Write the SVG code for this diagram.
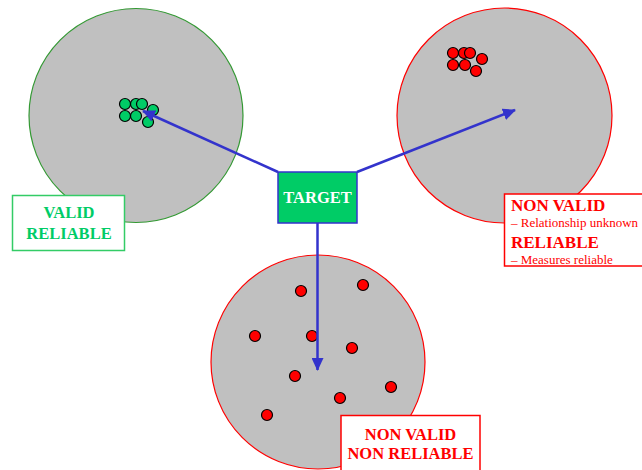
<svg xmlns="http://www.w3.org/2000/svg" width="642" height="470" viewBox="0 0 642 470">
<defs>
<style>
.field{fill:#C0C0C0;stroke-width:1.2}
.g{fill:#00CC66;stroke:#000;stroke-width:1.2}
.r{fill:#FF0000;stroke:#000;stroke-width:1.2}
.conn{stroke:#3333CC;stroke-width:2.5;fill:none;marker-end:url(#ah)}
.lbl{fill:#fff;stroke-width:1.5}
.b{font-family:"Liberation Serif","Times New Roman",serif;font-weight:bold}
.n{font-family:"Liberation Serif","Times New Roman",serif}
</style>
<marker id="ah" markerUnits="userSpaceOnUse" markerWidth="14" markerHeight="12" refX="12" refY="6" orient="auto">
<path d="M0,0 L13,6 L0,12 Z" fill="#3333CC"/>
</marker>
</defs>
<rect width="642" height="470" fill="#fff"/>

<g id="valid-target">
<circle class="field" cx="136" cy="115.5" r="107" stroke="#339933"/>
<circle class="g" cx="125" cy="104" r="5.5"/>
<circle class="g" cx="136" cy="104" r="5.5"/>
<circle class="g" cx="142" cy="104" r="5.5"/>
<circle class="g" cx="153" cy="110" r="5.5"/>
<circle class="g" cx="125" cy="116" r="5.5"/>
<circle class="g" cx="136" cy="116" r="5.5"/>
<circle class="g" cx="148" cy="122" r="5.5"/>
</g>

<g id="reliable-target">
<circle class="field" cx="504.5" cy="115.5" r="107.5" stroke="#FF0000"/>
<circle class="r" cx="453" cy="53" r="5.5"/>
<circle class="r" cx="464" cy="53" r="5.5"/>
<circle class="r" cx="470" cy="53" r="5.5"/>
<circle class="r" cx="482" cy="59" r="5.5"/>
<circle class="r" cx="453" cy="65" r="5.5"/>
<circle class="r" cx="465" cy="65" r="5.5"/>
<circle class="r" cx="476" cy="71" r="5.5"/>
</g>

<g id="unreliable-target">
<circle class="field" cx="318" cy="362" r="107" stroke="#FF0000"/>
<circle class="r" cx="301" cy="291" r="5.5"/>
<circle class="r" cx="363" cy="285" r="5.5"/>
<circle class="r" cx="255" cy="336" r="5.5"/>
<circle class="r" cx="312" cy="336" r="5.5"/>
<circle class="r" cx="352" cy="348" r="5.5"/>
<circle class="r" cx="295" cy="376" r="5.5"/>
<circle class="r" cx="391" cy="387" r="5.5"/>
<circle class="r" cx="340" cy="398" r="5.5"/>
<circle class="r" cx="267" cy="415" r="5.5"/>
</g>

<g id="connectors">
<line class="conn" x1="278" y1="172" x2="143" y2="111"/>
<line class="conn" x1="357" y1="172" x2="515" y2="110"/>
<line class="conn" x1="317.5" y1="223" x2="317.5" y2="370"/>
</g>

<g id="target">
<rect x="278" y="172" width="79" height="51" fill="#00CC66" stroke="#3333CC" stroke-width="1.5"/>
<text class="b" x="317.5" y="203" font-size="16.5" fill="#fff" text-anchor="middle">TARGET</text>
</g>

<g id="label-valid">
<rect class="lbl" x="12.5" y="195.5" width="112" height="55" stroke="#33CC66"/>
<text class="b" x="69" y="218" font-size="16.5" fill="#00CC66" text-anchor="middle">VALID</text>
<text class="b" x="69" y="239" font-size="16.5" fill="#00CC66" text-anchor="middle">RELIABLE</text>
</g>

<g id="label-nonvalid-reliable">
<rect class="lbl" x="504.5" y="194" width="145" height="72" stroke="#FF0000"/>
<text class="b" x="511" y="211" font-size="17" fill="#FF0000">NON VALID</text>
<text class="n" x="511" y="227" font-size="13" fill="#FF0000">– Relationship unknown</text>
<text class="b" x="511" y="248" font-size="17" fill="#FF0000">RELIABLE</text>
<text class="n" x="511" y="264" font-size="13" fill="#FF0000">– Measures reliable</text>
</g>

<g id="label-nonvalid-nonreliable">
<rect class="lbl" x="341" y="415.5" width="139" height="60" stroke="#FF0000"/>
<text class="b" x="410.5" y="440" font-size="16.5" fill="#FF0000" text-anchor="middle">NON VALID</text>
<text class="b" x="410.5" y="459" font-size="16.5" fill="#FF0000" text-anchor="middle">NON RELIABLE</text>
</g>
</svg>
